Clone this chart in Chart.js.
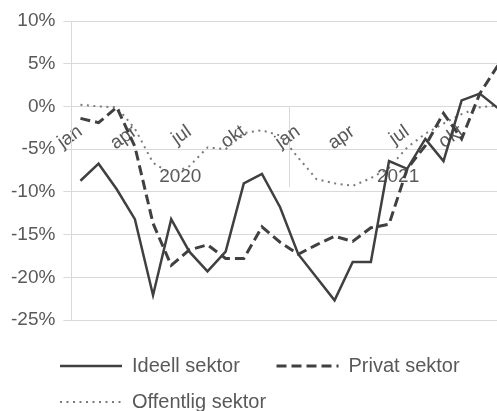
<!DOCTYPE html>
<html lang="no">
<head>
<meta charset="UTF-8">
<title>Sektorer</title>
<script src="https://cdn.jsdelivr.net/npm/chart.js"></script>
<style>
  html, body { margin: 0; padding: 0; background: #fff; overflow: hidden; }
  #wrap { width: 515px; height: 422px; }
</style>
</head>
<body>
<div id="wrap"><canvas id="chart"></canvas></div>
<script>
// months Jan 2020 - Dec 2021
const months = ['jan', 'feb', 'mar', 'apr', 'mai', 'jun', 'jul', 'aug', 'sep', 'okt', 'nov', 'des',
                'jan', 'feb', 'mar', 'apr', 'mai', 'jun', 'jul', 'aug', 'sep', 'okt', 'nov', 'des'];
const years = ['2020', '2021'];

// change in percent
const ideell    = [-8.7, -6.7, -9.7, -13.2, -22.1, -13.2, -17.0, -19.3, -17.0, -9.0, -7.9, -11.8,
                   -17.3, -20.0, -22.7, -18.2, -18.2, -6.4, -7.3, -3.8, -6.4, 0.7, 1.5, -0.2];
const privat    = [-1.4, -1.9, -0.1, -4.7, -13.7, -18.6, -16.8, -16.2, -17.8, -17.8, -14.1, -15.9,
                   -17.3, -16.2, -15.2, -15.8, -14.2, -13.8, -7.3, -4.6, -0.8, -3.8, 1.5, 4.8];
const offentlig = [0.2, 0.0, -0.1, -2.6, -6.6, -7.9, -7.0, -4.8, -5.0, -3.1, -2.8, -3.4,
                   -6.0, -8.5, -9.0, -9.3, -8.4, -7.2, -4.8, -3.2, -2.0, -0.9, -0.1, 0.1];

const seriesNames = ['Ideell sektor', 'Privat sektor', 'Offentlig sektor'];

const font = 'Liberation Sans, Arial, sans-serif';
const textColor = '#595959';
const gridColor = '#d9d9d9';

// legend rows start under the y labels, not at the canvas edge
const legendShift = {
    id: 'legendShift',
    afterLayout(chart) { chart.legend.left = 44; }
};

// rotated month labels should not push the plot area in
const noPad = (s) => { s.paddingLeft = 0; s.paddingRight = 0; };

new Chart(document.getElementById('chart'), {
    type: 'line',
    data: {
        labels: months,
        datasets: [{
            label: seriesNames[0] + '   \u2009',
            data: ideell,
            borderColor: '#404040',
            borderWidth: 2.5,
            pointRadius: 0
        }, {
            label: seriesNames[1],
            data: privat,
            borderColor: '#404040',
            borderWidth: 3,
            borderDash: [10, 5],
            pointRadius: 0
        }, {
            label: seriesNames[2],
            data: offentlig,
            borderColor: '#7a7a7a',
            borderWidth: 2,
            borderDash: [2, 4.5],
            pointRadius: 0
        }]
    },
    plugins: [legendShift],
    options: {
        responsive: true,
        maintainAspectRatio: false,
        animation: false,
        layout: { padding: { left: 3, right: 8, top: 21, bottom: 0 } },
        plugins: {
            tooltip: { enabled: false },
            legend: {
                position: 'bottom',
                align: 'start',
                title: { display: true, text: '', font: { size: 10, lineHeight: 1 }, padding: { top: 0, bottom: 10 } },
                labels: {
                    usePointStyle: true,
                    pointStyle: 'line',
                    pointStyleWidth: 62,
                    padding: 16,
                    color: textColor,
                    font: { family: font, size: 20 },
                    generateLabels: (chart) => Chart.defaults.plugins.legend.labels.generateLabels(chart).map((item, i) => {
                        const ds = chart.data.datasets[i];
                        return Object.assign(item, {
                            pointStyle: 'line',
                            lineDash: ds.borderDash || [],
                            lineWidth: ds.borderWidth,
                            strokeStyle: ds.borderColor
                        });
                    })
                }
            }
        },
        scales: {
            x: {
                position: { y: 0 },
                offset: true,
                afterFit: noPad,
                grid: { display: false, drawTicks: false },
                border: { display: false },
                ticks: {
                    autoSkip: false,
                    minRotation: 35,
                    maxRotation: 35,
                    padding: 14,
                    color: textColor,
                    font: { family: font, size: 19 },
                    callback: (v, i) => i % 3 === 0 ? months[i] : ''
                }
            },
            x2: {
                type: 'category',
                labels: years,
                position: { y: 0 },
                offset: true,
                afterFit: noPad,
                grid: {
                    offset: true,
                    drawOnChartArea: false,
                    drawTicks: true,
                    tickLength: 81,
                    tickWidth: 1,
                    tickColor: (c) => c.index === 1 ? gridColor : 'rgba(0,0,0,0)'
                },
                border: { display: false },
                ticks: {
                    maxRotation: 0,
                    padding: -22,
                    color: textColor,
                    font: { family: font, size: 19 }
                }
            },
            y: {
                min: -25,
                max: 10,
                grid: { color: gridColor, tickColor: gridColor, tickLength: 8 },
                border: { color: gridColor },
                ticks: {
                    stepSize: 5,
                    padding: 8,
                    color: textColor,
                    font: { family: font, size: 19 },
                    callback: (v) => v + '%'
                }
            }
        }
    }
});
</script>
</body>
</html>
